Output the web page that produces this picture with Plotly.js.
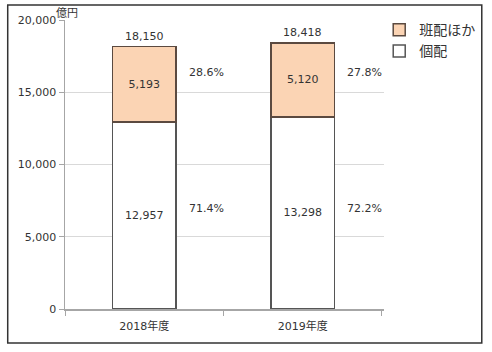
<!DOCTYPE html>
<html><head><meta charset="utf-8">
<script src="https://cdn.plot.ly/plotly-3.0.1.min.js"></script>
<style>html,body{margin:0;padding:0;background:#fff}</style>
</head><body>
<div id="chart" style="width:492px;height:352px"></div>
<script>
const categories = ["2018年度", "2019年度"];
const kohai = [12957, 13298];
const hanhai = [5193, 5120];
const seriesNames = ["個配", "班配ほか"];
const totals = kohai.map((v, i) => v + hanhai[i]);
const fmt = v => v.toLocaleString("en-US");
const pct = (a, b) => (a / b * 100).toFixed(1) + "%";

const FONT = "DejaVu Sans, Noto Sans CJK JP, sans-serif";
const TXT = "#333";

const traces = [
  {type: "bar", name: seriesNames[0], legendgroup: "g0", legendrank: 2, x: categories, y: kohai,
   marker: {color: "#ffffff", line: {color: "#555555", width: 1.5}},
   text: kohai.map(fmt), textposition: "inside", insidetextanchor: "middle",
   textfont: {family: FONT, size: 11, color: TXT}, width: 0.4, hoverinfo: "skip"},
  {type: "bar", name: seriesNames[1], legendgroup: "g1", legendrank: 1, x: categories, y: hanhai,
   marker: {color: "#FBD4B4", line: {color: "#5b4a40", width: 1.5}},
   text: hanhai.map(fmt), textposition: "inside", insidetextanchor: "middle",
   textfont: {family: FONT, size: 11, color: TXT}, width: 0.4, hoverinfo: "skip"}
];

const annotations = [];
categories.forEach((c, i) => {
  annotations.push({x: c, y: totals[i], text: fmt(totals[i]), showarrow: false,
    yanchor: "bottom", yshift: 2, font: {family: FONT, size: 11, color: TXT}});
  annotations.push({x: i + 0.39, xref: "x", y: (309 - 72) / 289, yref: "paper",
    xanchor: "center", yanchor: "middle",
    text: pct(hanhai[i], totals[i]), showarrow: false,
    font: {family: FONT, size: 11, color: TXT}});
  annotations.push({x: i + 0.39, xref: "x", y: (309 - 208) / 289, yref: "paper",
    xanchor: "center", yanchor: "middle",
    text: pct(kohai[i], totals[i]), showarrow: false,
    font: {family: FONT, size: 11, color: TXT}});
});
annotations.push({x: (67 - 65) / 323, xref: "paper", xanchor: "center", y: (309 - 13) / 289, yref: "paper",
  yanchor: "middle", text: "億円",
  showarrow: false, font: {family: FONT, size: 11, color: TXT}});

const layout = {
  width: 492, height: 352,
  margin: {l: 65, r: 104, t: 20, b: 43},
  paper_bgcolor: "#fff", plot_bgcolor: "#fff",
  barmode: "stack",
  showlegend: true,
  legend: {x: 0.985, y: 1.02, xanchor: "left", yanchor: "top",
    traceorder: "grouped",
    font: {family: FONT, size: 14, color: TXT}, tracegroupgap: 0,
    itemwidth: 30},
  xaxis: {type: "category", showline: true, linecolor: "#a6a6a6", linewidth: 1.5,
    ticks: "outside", tickson: "boundaries", ticklen: 5, tickcolor: "#a6a6a6",
    ticklabelstandoff: 6,
    showgrid: false, tickfont: {family: FONT, size: 11, color: TXT}},
  yaxis: {range: [0, 20000], tickvals: [0, 5000, 10000, 15000, 20000],
    tickformat: ",d", showline: true, linecolor: "#a6a6a6", linewidth: 1.5,
    ticks: "outside", ticklen: 5, tickcolor: "#a6a6a6",
    gridcolor: "#d9d9d9", gridwidth: 1, zeroline: false,
    tickfont: {family: FONT, size: 11, color: TXT}},
  annotations: annotations,
  shapes: [{type: "rect", xref: "paper", yref: "paper",
    x0: (7 - 65) / 323, x1: (487 - 65) / 323, y0: (309 - 343) / 289, y1: (309 - 5) / 289,
    line: {color: "#333", width: 1.5}, fillcolor: "rgba(0,0,0,0)"}]
};

Plotly.newPlot("chart", traces, layout, {displayModeBar: false, staticPlot: true});
</script>
</body></html>
